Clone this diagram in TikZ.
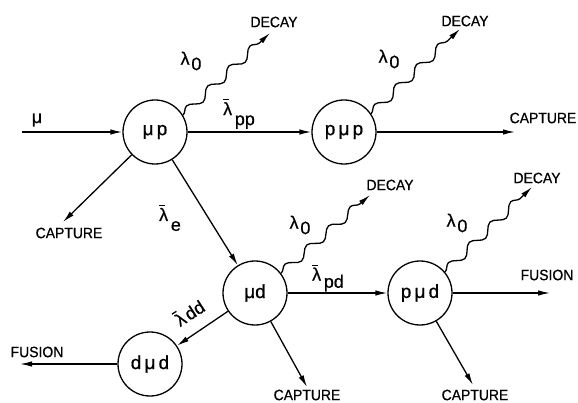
\documentclass[tikz,border=0pt]{standalone}
\usepackage{fontspec}
\setmainfont{Liberation Sans}
\newfontfamily\labfont[FakeStretch=0.93,FakeBold=0.6]{Liberation Sans}
\newfontfamily\ratefont[FakeBold=0.6]{Liberation Sans}
\usetikzlibrary{arrows.meta,decorations.pathmorphing}
\newcommand\lb{\leavevmode\rlap{\raisebox{0.82em}{\rule{0.3em}{0.07em}}}λ}
\newcommand\lz{λ\hspace{0.1em}\raisebox{-0.3em}{0}}
\begin{document}
\begin{tikzpicture}[x=1pt,y=-1pt, line width=1.3pt,
 state/.style={circle, draw, minimum size=64pt, inner sep=0pt, font=\ratefont\fontsize{19}{19}\selectfont},
 arr/.style={-{Latex[length=12pt,width=5.5pt]}},
 wavy/.style={arr, decorate, decoration={snake, amplitude=4.3pt, segment length=29pt, post length=10pt}},
 lab/.style={font=\labfont\fontsize{15}{15}\selectfont, inner sep=0pt},
 rate/.style={font=\ratefont\fontsize{18}{18}\selectfont, inner sep=0pt}]
\useasboundingbox (0,0) rectangle (578,403);
% states
\node[state] (mup) at (155,132) {μ\,p};
\node[state] (pmup) at (344,132) {p\,μ\,p};
\node[state] (mud) at (255,293) {μd};
\node[state] (pmud) at (420,293) {p\,μ\,d};
\node[state] (dmud) at (150,364) {d\,μ\,d};
% free ends
\coordinate (muin) at (22,132);
\coordinate (ppcap) at (515,132);
\coordinate (mupcap) at (63,222);
\coordinate (mupdec) at (270,33);
\coordinate (pmupdec) at (460,29);
\coordinate (muddec) at (370,195);
\coordinate (pmuddec) at (532,187);
\coordinate (pmudfus) at (550,293);
\coordinate (dmudfus) at (20,364);
\coordinate (mudcap) at (307,387);
\coordinate (pmudcap) at (473,385);
% connectors
\draw[arr] (muin) -- (mup);
\draw[arr] (mup) -- (pmup);
\draw[arr] (pmup) -- (ppcap);
\draw[arr] (mup) -- (mupcap);
\draw[arr] (mup) -- (mud);
\draw[arr] (mud) -- (pmud);
\draw[arr] (mud) -- (dmud);
\draw[arr] (mud) -- (mudcap);
\draw[arr] (pmud) -- (pmudcap);
\draw[arr] (pmud) -- (pmudfus);
\draw[arr] (dmud) -- (dmudfus);
\draw[wavy] (mup.31) -- (mupdec);
\draw[wavy] (pmup.34) -- (pmupdec);
\draw[wavy] (mud.37) -- (muddec);
\draw[wavy] (pmud.40) -- (pmuddec);
% labels
\node[rate] (lmu) at (37,120) {μ};
\node[rate] (lpp) at (239,114) {\lb\hspace{0.15em}\raisebox{-0.55em}{pp}};
\node[rate] (le) at (170,218) {\lb\hspace{0.15em}\raisebox{-0.55em}{e}};
\node[rate] (lpd) at (328,278) {\lb\hspace{0.15em}\raisebox{-0.4em}{pd}};
\node[rate, rotate=33] (ldd) at (189,312) {\lb\hspace{0.12em}dd};
\node[rate] (l0a) at (191,61) {\lz};
\node[rate] (l0b) at (389,59) {\lz};
\node[rate] (l0c) at (300,225) {\lz};
\node[rate] (l0d) at (457,223) {\lz};
\node[lab] (d1) at (274,22) {DECAY};
\node[lab] (d2) at (465,21) {DECAY};
\node[lab] (d3) at (390,185) {DECAY};
\node[lab] (d4) at (537,178) {DECAY};
\node[lab] (c1) at (543,118) {CAPTURE};
\node[lab] (c2) at (69,233) {CAPTURE};
\node[lab] (c3) at (307,395) {CAPTURE};
\node[lab] (c4) at (475,395) {CAPTURE};
\node[lab] (f1) at (547,275) {FUSION};
\node[lab] (f2) at (37,352) {FUSION};
\end{tikzpicture}
\end{document}
